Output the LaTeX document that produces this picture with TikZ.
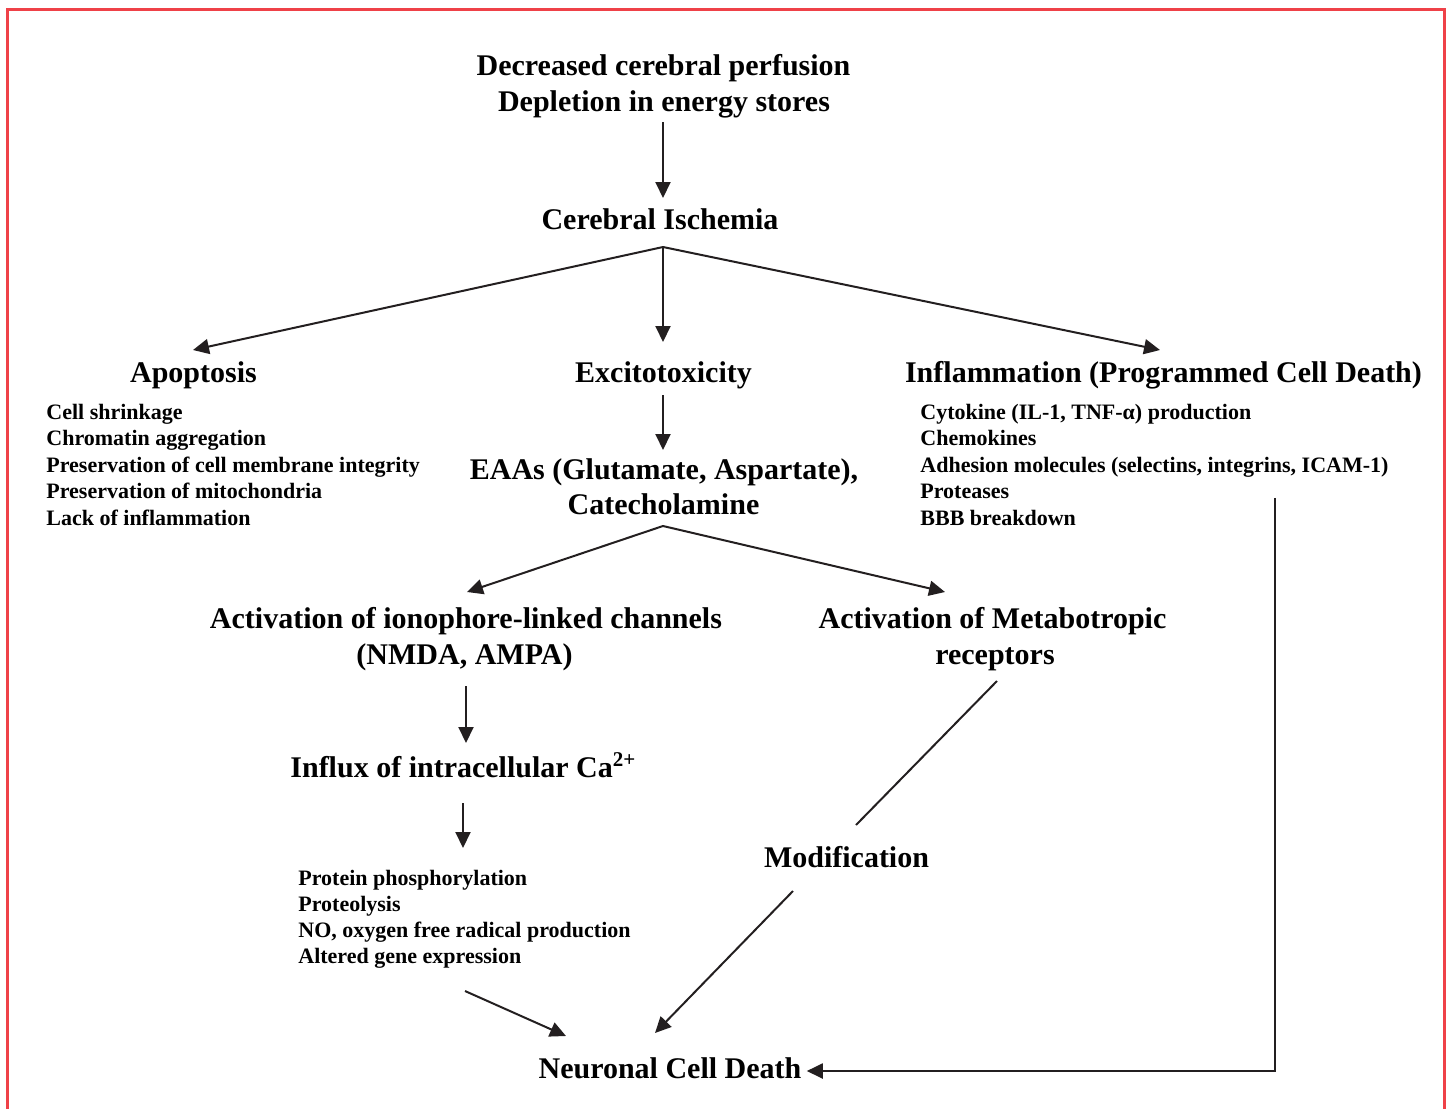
\documentclass[tikz,border=0pt]{standalone}
\usepackage{fontspec}
\setmainfont{Liberation Serif}
\usetikzlibrary{arrows.meta,calc}
\definecolor{framered}{RGB}{239,65,72}
\definecolor{ink}{RGB}{35,31,32}
\begin{document}
\begin{tikzpicture}[x=0.5pt,y=-0.5pt,
  big/.style={font=\fontsize{15}{18}\selectfont\bfseries, inner sep=0pt, anchor=base},
  small/.style={font=\fontsize{11}{13}\selectfont\bfseries, inner sep=0pt, anchor=base west},
  arr/.style={ink, line width=1pt, -{Triangle[length=8pt,width=7.5pt]}},
  ln/.style={ink, line width=1pt}]
\useasboundingbox (0,0) rectangle (1447,1109);
\draw[framered, line width=1.5pt] (7.5,1109) -- (7.5,9) -- (1444.5,9) -- (1444.5,1109);

% main nodes
\node[big] (dec) at (663.5,75) {Decreased cerebral perfusion};
\node[big] (dep) at (664,111) {Depletion in energy stores};
\node[big] (isch) at (660,229) {Cerebral Ischemia};
\node[big] (apo) at (193.5,382) {Apoptosis};
\node[big] (exc) at (663.5,382) {Excitotoxicity};
\node[big] (inf) at (1163.5,382) {Inflammation (Programmed Cell Death)};
\node[big] (eaa) at (664,479) {EAAs (Glutamate, Aspartate),};
\node[big] (cat) at (663.5,514) {Catecholamine};
\node[big] (act1) at (466,628) {Activation of ionophore-linked channels};
\node[big] (act2) at (464.5,664) {(NMDA, AMPA)};
\node[big] (met1) at (992.5,628) {Activation of Metabotropic};
\node[big] (met2) at (995,664) {receptors};
\node[big, anchor=base west] (influx) at (290,777) {Influx of intracellular Ca\textsuperscript{2+}};
\node[big] (modif) at (846.5,867) {Modification};
\node[big] (death) at (670,1078) {Neuronal Cell Death};

% lists
\foreach \t [count=\i] in {Cell shrinkage, Chromatin aggregation,
  Preservation of cell membrane integrity, Preservation of mitochondria,
  Lack of inflammation}
  \node[small] (apl\i) at (46,{419+26.6*(\i-1)}) {\t};
\foreach \t [count=\i] in {{Cytokine (IL-1, TNF-α) production}, Chemokines,
  {Adhesion molecules (selectins, integrins, ICAM-1)}, Proteases,
  BBB breakdown}
  \node[small] (inl\i) at (920,{419+26.6*(\i-1)}) {\t};
\foreach \t [count=\i] in {Protein phosphorylation, Proteolysis,
  {NO, oxygen free radical production}, Altered gene expression}
  \node[small] (prl\i) at (298,{885+26*(\i-1)}) {\t};

% junctions
\coordinate (j1) at ($(isch.base)+(3,18)$);
\coordinate (j2) at ($(cat.base)+(-0.5,12)$);

% connectors
\draw[arr] ($(dep.base)+(-1,11)$) -- ($(isch.base)+(3,-31)$);
\draw[arr] (j1) -- ($(apo.base)+(-0.5,-32)$);
\draw[arr] (j1) -- ($(exc.base)+(-0.5,-40)$);
\draw[arr] (j1) -- ($(inf.base)+(-3.5,-32)$);
\draw[arr] ($(exc.base)+(-0.5,13)$) -- ($(eaa.base)+(-1,-29)$);
\draw[arr] (j2) -- ($(act1.base)+(1,-36)$);
\draw[arr] (j2) -- ($(met1.base)+(-47.5,-36)$);
\draw[arr] ($(act2.base)+(1.5,22)$) -- ($(influx.base west)+(176,-34)$);
\draw[arr] ($(influx.base west)+(173,26)$) -- ($(prl1.base west)+(165,-37)$);
\draw[ln] ($(met2.base)+(2,17)$) -- ($(modif.base)+(9.5,-42)$);
\draw[arr] ($(modif.base)+(-53.5,24)$) -- ($(death.base)+(-15,-45)$);
\draw[arr] ($(prl4.base west)+(167,28)$) -- ($(death.base)+(-104,-42)$);
\draw[arr] ($(inl4.base west)+(355,-1)$) |- ($(death.base east)+(5,-7)$);
\end{tikzpicture}
\end{document}
